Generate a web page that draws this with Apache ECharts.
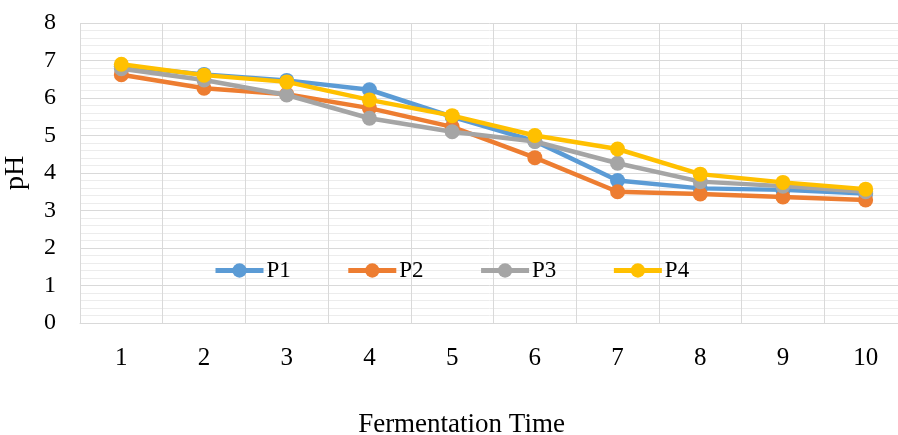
<!DOCTYPE html>
<html><head><meta charset="utf-8">
<script src="https://cdn.jsdelivr.net/npm/echarts@6/dist/echarts.min.js"></script>
<style>html,body{margin:0;padding:0;background:#fff}#c{width:898px;height:435px}</style>
</head><body><div id="c"></div>
<script>
const categories = ['1','2','3','4','5','6','7','8','9','10'];
const p1 = [6.85, 6.63, 6.47, 6.22, 5.5, 4.85, 3.8, 3.59, 3.55, 3.45];
const p2 = [6.62, 6.26, 6.1, 5.73, 5.23, 4.41, 3.5, 3.44, 3.36, 3.28];
const p3 = [6.78, 6.48, 6.08, 5.46, 5.1, 4.84, 4.26, 3.77, 3.65, 3.5];
const p4 = [6.9, 6.61, 6.43, 5.95, 5.53, 5.0, 4.64, 3.97, 3.75, 3.57];
const seriesNames = ['P1','P2','P3','P4'];
const colors = ['#5B9BD5','#ED7D31','#A5A5A5','#FFC000'];

const font = 'Liberation Serif';
const chart = echarts.init(document.getElementById('c'));
const data = [p1,p2,p3,p4];
chart.setOption({
  animation: false,
  color: colors,
  textStyle: {fontFamily: font},
  grid: {left: 80, right: -9, top: 23, bottom: 112, outerBoundsMode: 'none', containLabel: false},
  legend: {
    data: seriesNames, left: 208, top: 254, itemWidth: 48, itemHeight: 18, itemGap: 55,
    lineStyle: {width: 5},
    textStyle: {fontFamily: font, fontSize: 23, color: '#000', padding: [0,0,0,-2]}
  },
  xAxis: {
    type: 'category', data: categories, boundaryGap: true,
    name: 'Fermentation Time', nameLocation: 'middle', nameGap: 88,
    nameTextStyle: {fontFamily: font, fontSize: 27, color: '#000', padding: [0, 64, 0, 0]},
    axisLine: {lineStyle: {color: '#d9d9d9', width: 1}},
    axisTick: {show: false},
    axisLabel: {fontFamily: font, fontSize: 25, color: '#000', margin: 23},
    splitLine: {show: true, lineStyle: {color: '#d9d9d9'}}
  },
  yAxis: {
    type: 'value', min: 0, max: 8, interval: 1,
    name: 'pH', nameLocation: 'middle', nameGap: 50, nameRotate: 90,
    nameTextStyle: {fontFamily: font, fontSize: 28, color: '#000'},
    axisLine: {show: false}, axisTick: {show: false},
    axisLabel: {fontFamily: font, fontSize: 24, color: '#000', margin: 24},
    splitLine: {lineStyle: {color: '#d9d9d9'}},
    minorTick: {show: false, splitNumber: 5},
    minorSplitLine: {show: true, lineStyle: {color: '#ececec'}}
  },
  series: seriesNames.map((n,i) => ({
    name: n, type: 'line', data: data[i], symbol: 'circle', symbolSize: 15,
    lineStyle: {width: 4.5}, itemStyle: {color: colors[i]}, z: 2 + i
  }))
});
</script></body></html>
